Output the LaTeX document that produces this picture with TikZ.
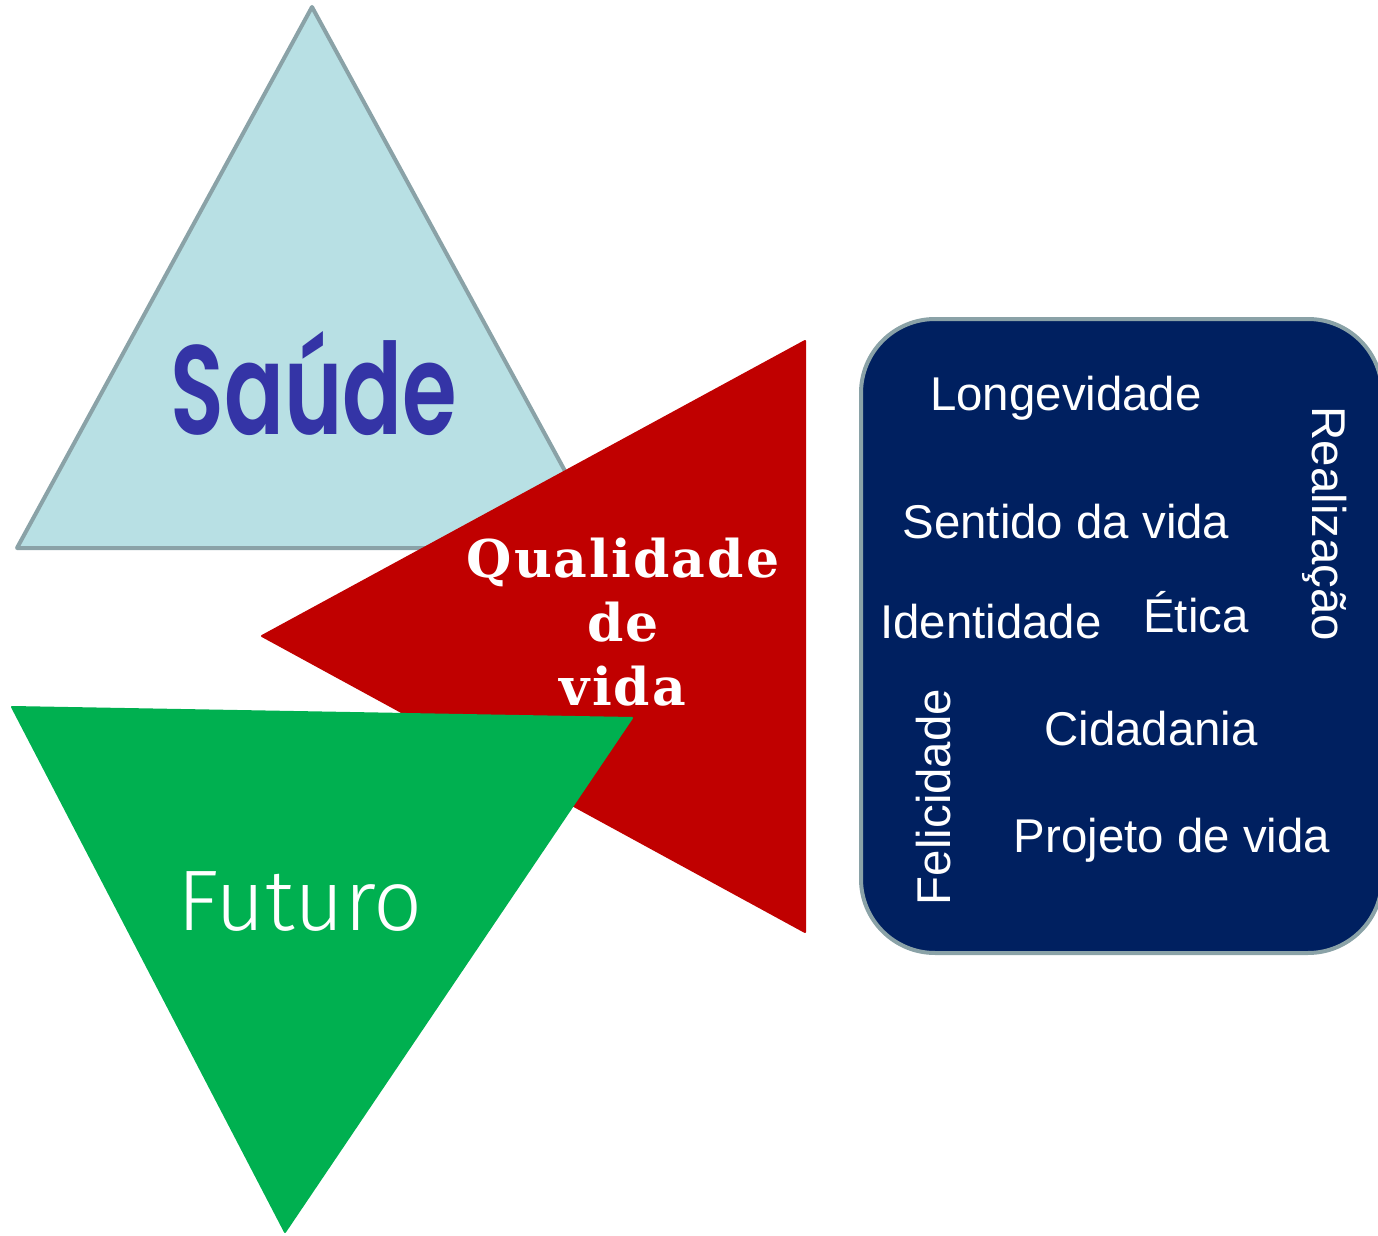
\documentclass[tikz,border=0pt]{standalone}
\usepackage{fontspec}
\setmainfont{Liberation Sans}
\newfontfamily\saudefont{Poppins SemiBold}
\newfontfamily\futurofont{Fira Sans Light}
\newfontfamily\qvfont[LetterSpace=4]{DejaVu Serif}
\usetikzlibrary{calc}

\definecolor{saudefill}{HTML}{B8E0E4}
\definecolor{saudeline}{HTML}{8AA2A7}
\definecolor{saudetext}{HTML}{3434A6}
\definecolor{qvred}{HTML}{C00000}
\definecolor{futgreen}{HTML}{00B050}
\definecolor{boxnavy}{HTML}{002060}

\begin{document}
\begin{tikzpicture}[x=0.5pt,y=-0.5pt,
		item/.style={text=white, inner sep=0pt, font=\fontsize{23.7}{28}\selectfont},
		tri/.style={line join=round}]
			\useasboundingbox (0,0) rectangle (1378,1236);

			% vertices of the three triangles
			\coordinate (S1) at (312,7);
			\coordinate (S2) at (17,548);
			\coordinate (S3) at (607,548);
			\coordinate (Q1) at (262,636);
			\coordinate (Q2) at (805,341);
			\coordinate (Q3) at (805,932);
			\coordinate (F1) at (12,707);
			\coordinate (F2) at (632,718);
			\coordinate (F3) at (285,1232);

			\draw[tri, fill=saudefill, draw=saudeline, line width=2pt] (S1) -- (S2) -- (S3) -- cycle;
			\draw[tri, fill=qvred, draw=qvred, line width=1pt] (Q1) -- (Q2) -- (Q3) -- cycle;
			\draw[tri, fill=futgreen, draw=futgreen, line width=1pt] (F1) -- (F2) -- (F3) -- cycle;

			\node (saude) at (314,384) {\scalebox{0.94}[1.35]{\saudefont\fontsize{47}{50}\selectfont\color{saudetext}Saúde}};
			\node (qv) at (623,622) [align=center, text=white, inner sep=0pt,
				font=\qvfont\bfseries\fontsize{26}{32}\selectfont] {Qualidade\\de\\vida};
			\node (futuro) at (300,902) {\futurofont\fontsize{43}{46}\selectfont\color{white}Futuro};

			% box on the right
			\draw[fill=boxnavy, draw=saudeline, line width=2pt, rounded corners=37pt] (861,319) rectangle (1382,953);

			\node[item, anchor=base] (longev) at (1066,410) {Longevidade};
			\node[item, anchor=base] (sentido) at (1066,538) {Sentido da vida};
			\node[item, anchor=base] (ident) at (991,638) {Identidade};
			\node[item, anchor=base] (etica) at (1196,632) {Ética};
			\node[item, anchor=base] (cidad) at (1151,745) {Cidadania};
			\node[item, anchor=base] (projeto) at (1172,852) {Projeto de vida};
			\node[item, rotate=-90] (realiz) at (1325,524) {Realização};
			\node[item, rotate=90] (felic) at (934,797) {Felicidade};

		\end{tikzpicture}
\end{document}
